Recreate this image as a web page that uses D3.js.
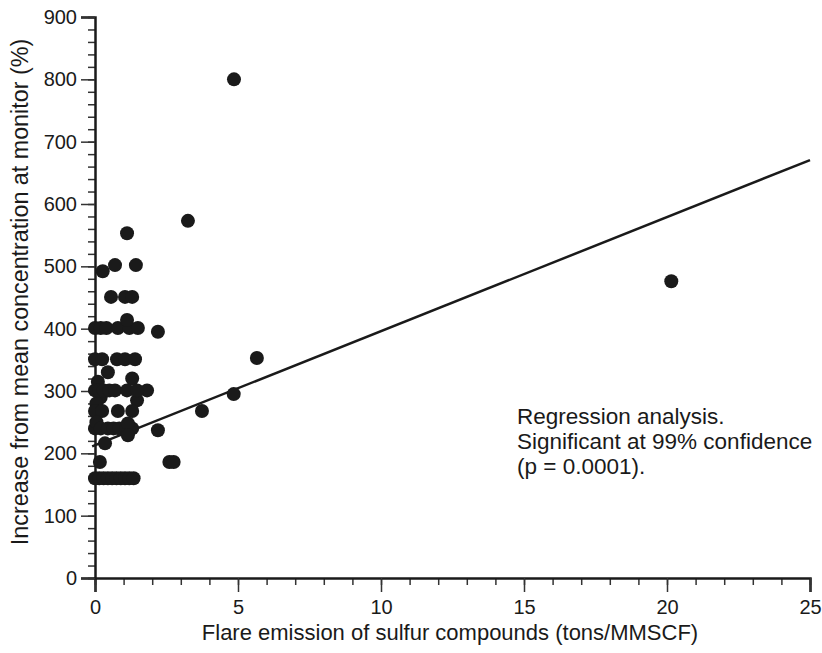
<!DOCTYPE html>
<html>
<head>
<meta charset="utf-8">
<script src="https://cdn.jsdelivr.net/npm/d3@7"></script>
<style>
    body { margin: 0; background: #fff; }
    text { font-family: "Liberation Sans", Arial, sans-serif; fill: #1a1a1a; }
</style>
</head>
<body>
<script>
// flare emission (tons/MMSCF)
const emission = [
    4.86, 3.25, 20.15, 5.66, 4.85, 3.74, 2.2, 2.2, 2.6, 2.75, 1.82,
    1.12, 1.43, 0.7, 0.27, 0.56, 1.05, 1.3,
    0.0, 0.2, 0.4, 0.8, 1.2, 1.5, 1.12,
    0.0, 0.25, 0.77, 1.05, 1.4,
    0.45, 1.3, 0.1, 0.2, 0.05, 1.47,
    0.0, 0.15, 0.3, 0.5, 0.7, 1.12, 1.47,
    0.0, 0.25, 0.8, 1.3,
    0.0, 0.05, 0.2, 0.45, 0.65, 0.85, 1.1, 1.3, 1.15, 1.15,
    0.35, 0.17,
    0.0, 0.15, 0.3, 0.45, 0.6, 0.75, 0.9, 1.05, 1.2, 1.35
];
// increase from mean concentration (%)
const increase = [
    800, 573, 476, 353, 295, 268, 395, 237, 186, 186, 301,
    553, 502, 502, 492, 451, 451, 451,
    401, 401, 401, 401, 401, 401, 414,
    351, 351, 351, 351, 351,
    330, 320, 315, 290, 280, 285,
    301, 301, 301, 301, 301, 301, 301,
    268, 268, 268, 268,
    240, 250, 240, 240, 240, 240, 240, 240, 248, 229,
    216, 186,
    160, 160, 160, 160, 160, 160, 160, 160, 160, 160
];

const xTicks = [0, 5, 10, 15, 20, 25];
const yTicks = [0, 100, 200, 300, 400, 500, 600, 700, 800, 900];
const regression = {intercept: 213, slope: 18.3};
const note = ["Regression analysis.", "Significant at 99% confidence", "(p = 0.0001)."];

const svgWidth = 822;
const svgHeight = 653;
const config = {origin: {x: 95, y: 578}, width: 715, height: 561};

const svg = d3.select("body").append("svg")
    .attr("width", svgWidth)
    .attr("height", svgHeight);

const g = svg.append("g")
    .attr("transform", `translate(${config.origin.x}, ${config.origin.y - config.height})`);

const scaleX = d3.scaleLinear().domain([0, 25]).range([0, config.width]);
const scaleY = d3.scaleLinear().domain([0, 900]).range([config.height, 0]);

// minor ticks
g.append("g")
    .attr("transform", `translate(0, ${config.height})`)
    .call(d3.axisBottom(scaleX).tickValues(d3.range(0, 26, 1)).tickSize(7).tickFormat(""))
    .call(a => a.select(".domain").remove());
g.append("g")
    .call(d3.axisLeft(scaleY).tickValues(d3.range(0, 901, 20)).tickSize(7).tickFormat(""))
    .call(a => a.select(".domain").remove());

// major ticks + labels
g.append("g")
    .attr("transform", `translate(0, ${config.height})`)
    .call(d3.axisBottom(scaleX).tickValues(xTicks).tickSize(14).tickPadding(8).tickFormat(d3.format("d")))
    .call(a => a.select(".domain").attr("stroke-width", 2.5))
    .selectAll("text").attr("font-size", 20);
g.append("g")
    .call(d3.axisLeft(scaleY).tickValues(yTicks).tickSize(14).tickPadding(4).tickFormat(d3.format("d")))
    .call(a => a.select(".domain").attr("stroke-width", 2.5))
    .selectAll("text").attr("font-size", 20);

g.selectAll(".tick line").attr("stroke", "#333").attr("stroke-width", 1.5);
g.selectAll(".domain").attr("stroke", "#1a1a1a");

// regression line
g.append("line")
    .attr("x1", scaleX(-0.1))
    .attr("y1", scaleY(regression.intercept - 0.1 * regression.slope))
    .attr("x2", scaleX(25))
    .attr("y2", scaleY(regression.intercept + 25 * regression.slope))
    .attr("stroke", "#1a1a1a")
    .attr("stroke-width", 2.5);

// points
g.append("g").selectAll("circle")
    .data(emission.map((d, i) => [d, increase[i]]))
    .join("circle")
    .attr("cx", d => scaleX(d[0]))
    .attr("cy", d => scaleY(d[1]))
    .attr("r", 7)
    .attr("fill", "#1a1a1a");

// axis titles
svg.append("text")
    .attr("x", 450)
    .attr("y", 640)
    .attr("text-anchor", "middle")
    .attr("font-size", 22)
    .text("Flare emission of sulfur compounds (tons/MMSCF)");

svg.append("text")
    .attr("transform", `translate(28, 292) rotate(-90)`)
    .attr("text-anchor", "middle")
    .attr("font-size", 23.3)
    .text("Increase from mean concentration at monitor (%)");

// annotation
svg.append("g").selectAll("text")
    .data(note)
    .join("text")
    .attr("x", 517)
    .attr("y", (d, i) => 424 + i * 25)
    .attr("font-size", 22.5)
    .text(d => d);
</script>
</body>
</html>
